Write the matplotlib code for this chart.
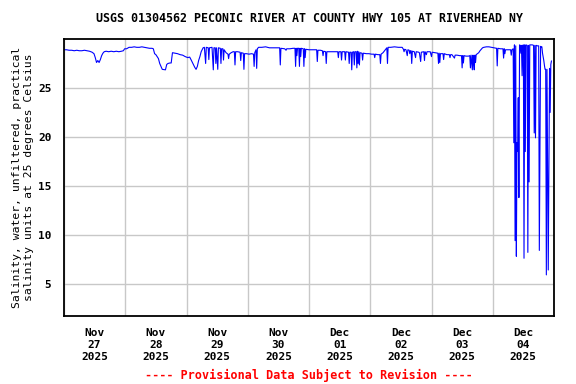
import matplotlib

matplotlib.use("Agg")
import matplotlib.dates as mdates
import matplotlib.pyplot as plt
import pandas as pd

# Salinity readings, hours after 2025-11-27 00:00
HOURS = [
    0, 1, 2, 3, 4, 5, 6, 7, 8, 9, 10, 11, 11.75, 12.25, 12.75, 13.25, 13.75, 14.25,
    14.75, 15.25, 15.75, 16.5, 17.5, 18.5, 19.5, 20.5, 21.5, 22.5, 23.25, 23.75, 24.5,
    25.5, 26.5, 27.5, 28.5, 29.5, 30.5, 31.5, 32.5, 33.5, 34.5, 35.0, 35.5, 36.0,
    36.5, 37.0, 37.5, 38.0, 38.5, 39.75, 40.25, 40.75, 41.5, 42.0, 42.5, 43.5, 44.5,
    45.5, 46.5, 47.5, 48.5,
    49.25, 49.75, 50.5, 51.25, 51.75, 52.25, 52.75, 53.25, 53.75, 54.5, 55.0, 55.5,
    55.75, 56.5, 56.75, 57.0, 58.0, 58.5, 58.75, 59.25, 59.5, 59.75, 60.25, 60.5,
    61.25, 61.5, 61.75, 62.25, 62.5, 62.75, 63.5, 64.25, 64.5, 64.75, 65.5, 66.25,
    66.75, 67.0, 67.25, 68.0, 69.0, 69.25, 69.5, 70.25, 70.5, 70.75, 71.5, 72.5,
    73.5, 74.25, 74.5, 74.75, 75.25, 75.5, 75.75, 76.25,
    77.5, 79.0, 80.5, 82.0, 83.5, 84.5, 84.75, 85.0, 86.5, 87.0, 87.25, 88.5, 89.75,
    90.5, 90.75, 91.0, 91.25, 91.5, 92.0, 92.25, 92.5, 92.75, 93.0, 93.75, 94.0,
    94.25, 94.5, 94.75, 96.0, 97.5, 99.0, 99.25, 99.5,
    100.5, 101.25, 101.5, 101.75, 102.5, 102.75, 103.0, 104.5, 106.0, 107.25, 107.5,
    107.75, 108.5, 108.75, 109.0, 110.0, 110.25, 110.5, 111.5, 111.75, 112.0, 112.5,
    112.75, 113.0, 113.5, 113.75, 114.0, 114.5, 114.75, 115.0, 115.25, 115.5, 115.75,
    116.0, 116.75, 117.0, 117.25, 118.5, 119.5, 120.5, 121.5, 121.75, 122.0, 123.0,
    123.75, 124.0, 124.25, 125.0, 125.75, 126.5, 126.75, 127.0,
    128.0, 129.5, 131.0, 132.5, 133.0, 133.25, 133.5, 134.0, 134.5, 134.75, 135.25,
    135.5, 135.75, 136.0, 136.25, 136.5, 137.25, 137.75, 138.0, 139.0, 139.25, 139.75,
    140.0, 141.0, 141.25, 141.5, 142.0, 142.25, 143.5, 144.0, 144.25, 145.5, 146.5,
    146.75, 147.0, 147.25, 147.5, 148.5, 148.75, 149.0, 150.0, 151.0, 151.25, 151.5,
    152.0, 153.0, 153.25, 154.0, 155.0, 155.75, 156.0, 156.25, 156.5, 156.75, 157.5,
    158.5, 159.0, 159.25, 159.5, 160.0, 160.25, 160.5, 160.75, 161.0, 161.25, 161.5,
    162.0, 162.5, 163.0, 163.5, 164.0, 164.5, 165.5, 166.5, 167.5, 168.5, 169.5,
    169.75, 170.0, 171.0, 172.0, 172.25, 172.5, 172.75, 173.0, 174.0, 175.0, 175.25,
    175.5, 176.0,
    176.25, 176.5, 176.75, 177.0, 177.25, 177.5, 177.75, 178.0, 178.25, 178.5, 178.75,
    179.0, 179.25, 179.5, 179.75, 180.0, 180.25, 180.5, 180.75, 181.0, 181.5, 181.75,
    182.0, 182.25, 182.5, 183.0, 183.5, 184.0, 184.25, 184.5, 184.75, 185.0, 185.5,
    186.0, 186.25, 186.5, 186.75, 187.0, 187.25, 187.5, 187.75, 188.0, 188.25, 188.5,
    188.75, 189.0, 189.25, 189.5, 189.75, 190.0, 190.25, 190.5, 190.75, 191.0,
]
SALINITY = [
    28.9, 28.9, 28.85, 28.85, 28.8, 28.85, 28.8, 28.8, 28.85, 28.8, 28.75, 28.65, 28.5,
    28.1, 27.6, 27.8, 27.6, 27.9, 28.3, 28.55, 28.7, 28.75, 28.7, 28.75, 28.7, 28.75,
    28.7, 28.75, 28.8, 29.0, 29.0,
    29.15, 29.15, 29.2, 29.15, 29.15, 29.2, 29.15, 29.1, 29.05, 29.05, 29.0, 28.5, 28.4,
    28.2, 28.0, 27.5, 27.2, 26.9, 26.85, 27.4, 27.5, 27.55, 27.55, 28.6, 28.55, 28.5,
    28.4, 28.35, 28.2, 28.1,
    28.15, 27.9, 27.5, 27.1, 26.9, 27.2, 27.8, 28.2, 28.7, 29.1, 29.15, 27.5,
    29.15, 29.1, 27.9, 29.1, 29.15, 26.85, 29.1, 29.1, 27.5, 29.1, 26.9, 29.1,
    29.05, 27.5, 29.0, 29.0, 27.85, 28.9, 28.6, 28.45, 28.0, 28.45, 28.6, 28.7,
    28.7, 27.35, 28.7, 28.7, 28.65, 27.8, 28.6, 28.55, 26.9, 28.5, 28.5, 28.45,
    28.5, 28.45, 27.2, 28.6, 28.9, 27.0, 29.0, 29.15,
    29.15, 29.2, 29.1, 29.1, 29.1, 29.1, 27.35, 29.05, 29.0, 28.85, 29.0, 29.0, 29.05,
    29.05, 27.2, 29.05, 28.3, 29.05, 29.05, 27.2, 29.05, 28.2, 29.05, 29.0, 27.2,
    29.0, 28.1, 28.95, 28.9, 28.9, 28.9, 27.7, 28.85,
    28.85, 28.8, 28.3, 28.75, 28.7, 27.5, 28.7, 28.7, 28.7, 28.7, 28.1,
    28.7, 28.7, 27.85, 28.7, 28.7, 27.85, 28.7, 28.65, 27.5, 28.65, 28.65,
    26.85, 28.65, 28.7, 27.35, 28.7, 28.7, 27.05, 28.75, 27.5, 28.7, 27.35,
    28.6, 28.55, 27.85, 28.55, 28.5, 28.5, 28.45, 28.45, 28.1, 28.45, 28.4,
    28.4, 27.5, 28.45, 28.6, 28.85, 29.1, 27.5, 29.15,
    29.15, 29.2, 29.15, 29.15, 28.95, 28.7, 28.95, 28.9, 28.3, 28.9, 28.85,
    28.5, 28.8, 28.8, 27.5, 28.75, 28.7, 28.1, 28.7, 28.65, 28.6, 27.7,
    28.65, 28.7, 27.8, 28.7, 28.4, 28.7, 28.7, 28.2, 28.65, 28.6, 28.55,
    27.5, 28.55, 27.6, 28.5, 28.5, 27.9, 28.5, 28.4, 28.4, 28.1, 28.4,
    28.4, 28.05, 28.35, 28.35, 28.3, 28.3, 27.05, 28.3, 27.55, 28.3, 28.25,
    28.25, 28.3, 27.05, 28.35, 26.85, 28.35, 27.5, 26.85, 28.35, 27.6, 28.4,
    28.5, 28.6, 28.8, 28.95, 29.1, 29.15, 29.2, 29.2, 29.15, 29.1, 29.05,
    27.25, 29.05, 29.0, 29.0, 28.05, 29.0, 28.5, 28.9, 28.9, 28.9, 28.35,
    28.9, 29.0,
    19.4, 29.4, 9.4, 29.3, 7.8, 19.4, 18.5, 24.0, 13.8, 29.4, 29.35,
    28.55, 29.35, 26.25, 29.35, 29.4, 7.6, 29.4, 18.5, 29.4, 29.35, 8.2,
    29.35, 15.4, 29.4, 29.4, 29.4, 29.35, 20.4, 29.35, 19.9, 29.35, 29.3,
    29.3, 8.4, 18.85, 29.25, 29.2, 29.2, 28.55, 28.2, 27.8, 27.3, 26.9,
    26.9, 5.9, 26.9, 16.5, 6.4, 16.5, 27.0, 22.5, 27.4, 27.75,
]

START = pd.Timestamp("2025-11-27")
END = pd.Timestamp("2025-12-05")
Y_TICKS = [5, 10, 15, 20, 25]

TITLE = "USGS 01304562 PECONIC RIVER AT COUNTY HWY 105 AT RIVERHEAD NY"
Y_LABEL = "Salinity, water, unfiltered, practical\nsalinity units at 25 degrees Celsius"
FOOTER = "---- Provisional Data Subject to Revision ----"

plt.rcParams["font.family"] = "DejaVu Sans Mono"
plt.rcParams["font.weight"] = "bold"

times = START + pd.to_timedelta(HOURS, unit="h")

fig = plt.figure(figsize=(5.76, 3.84), dpi=100)
ax = fig.add_axes([64 / 576, 1 - 316 / 384, 490 / 576, 277 / 384])

ax.plot(times, SALINITY, color="#0000ff", linewidth=0.8)

ax.set_xlim(START, END)
ax.set_ylim(1.7, 30.0)
ax.set_yticks(Y_TICKS)

# gridlines at midnight, labels centred on each day
ax.xaxis.set_major_locator(mdates.DayLocator())
ax.xaxis.set_major_formatter(plt.NullFormatter())
ax.xaxis.set_minor_locator(mdates.HourLocator(byhour=12))
ax.xaxis.set_minor_formatter(mdates.DateFormatter("%b\n%d\n%Y"))
ax.tick_params(axis="x", which="both", length=0, pad=9, labelsize=8.0)
ax.tick_params(axis="y", length=0, pad=9, labelsize=8.0)
for lbl in ax.get_xticklabels(minor=True):
    lbl.set_linespacing(1.2)

ax.grid(True, which="major", color="#c8c8c8", linewidth=1.0)
ax.set_axisbelow(True)
for spine in ax.spines.values():
    spine.set_linewidth(1.3)

ax.set_ylabel(Y_LABEL, fontsize=8.2, labelpad=3, linespacing=1.2)
fig.text(309 / 576, 1 - 19 / 384, TITLE, ha="center", va="center", fontsize=8.4)
fig.text(309 / 576, 1 - 375 / 384, FOOTER, ha="center", va="center",
         fontsize=8.5, color="red")

fig.savefig("out.png", dpi=100)
